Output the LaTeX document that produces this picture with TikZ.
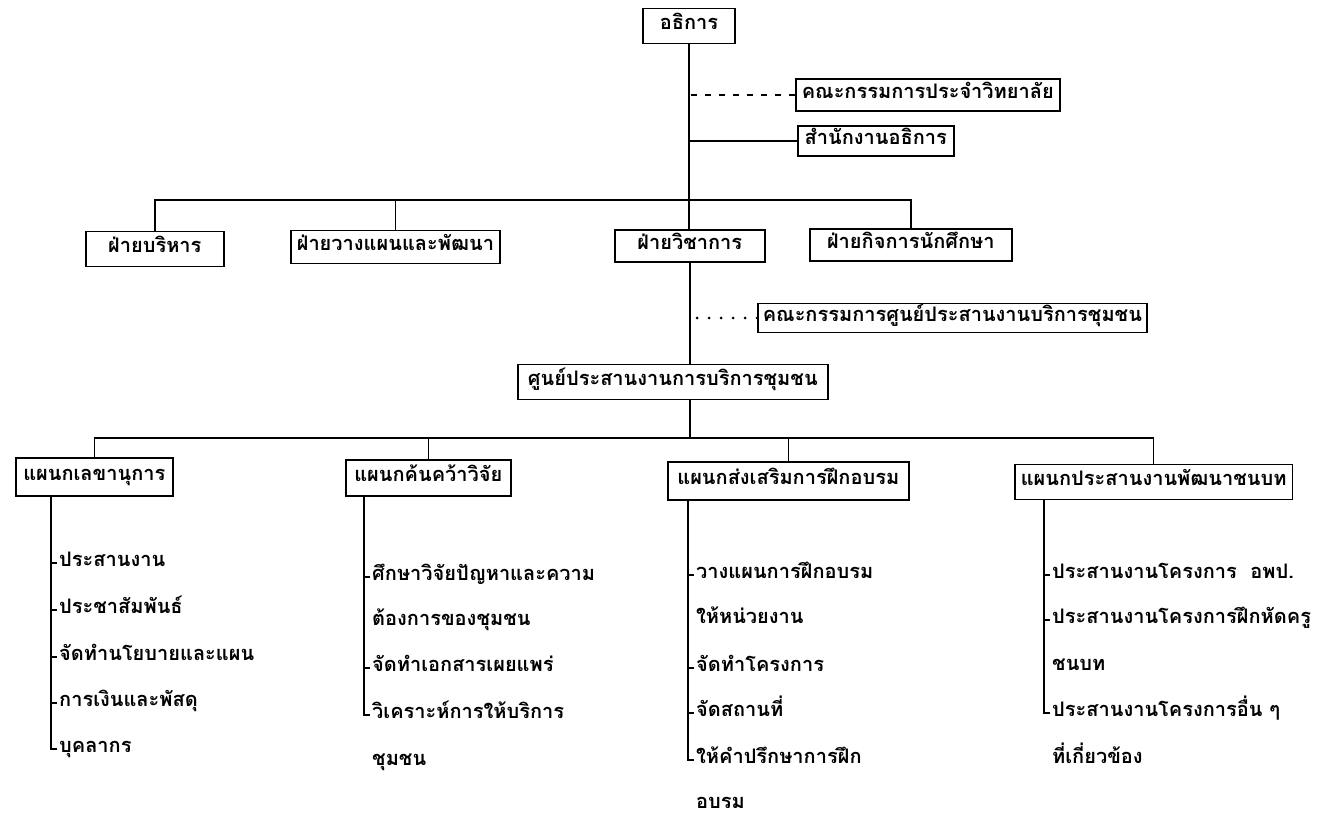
\documentclass[tikz,border=0pt]{standalone}
\usepackage{fontspec}
\newfontfamily\thai[Script=Thai]{Loma}
\begin{document}
\begin{tikzpicture}[x=1pt,y=-1pt,
  every node/.style={font=\thai\bfseries\fontsize{20}{22}\selectfont, text height=10pt, text depth=3pt},
  box/.style={draw, line width=1.6pt, inner xsep=6pt, inner ysep=0pt, anchor=west},
  item/.style={anchor=west, inner xsep=2pt, inner ysep=0pt},
  conn/.style={line width=1.6pt},
  dashline/.style={line width=1.5pt, dash pattern=on 6pt off 8pt},
  dotline/.style={line width=3pt, line cap=round, dash pattern=on 0pt off 12pt}]
\useasboundingbox (0,0) rectangle (1322,818);

% top level
\node[box, anchor=center, minimum width=92pt, minimum height=35pt] (dir) at (689,26) {อธิการ};
\node[box, minimum height=32pt] (com1) at (795,95) {คณะกรรมการประจำวิทยาลัย};
\node[box, minimum width=156pt, minimum height=30pt] (off) at (797,141) {สำนักงานอธิการ};

% divisions
\node[box, minimum width=138pt, minimum height=35pt] (d1) at (85,249) {ฝ่ายบริหาร};
\node[box, minimum width=205pt, minimum height=33pt] (d2) at (290,247) {ฝ่ายวางแผนและพัฒนา};
\node[box, minimum width=150pt, minimum height=32pt] (d3) at (614,246) {ฝ่ายวิชาการ};
\node[box, minimum width=202pt, minimum height=32pt] (d4) at (809,245) {ฝ่ายกิจการนักศึกษา};

% centre
\node[box, inner xsep=5pt, minimum height=29pt] (com2) at (757,318) {คณะกรรมการศูนย์ประสานงานบริการชุมชน};
\node[box, minimum width=310pt, minimum height=35pt] (ctr) at (517,382) {ศูนย์ประสานงานการบริการชุมชน};

% sections
\node[box, minimum width=157pt, minimum height=38pt] (s1) at (15,477) {แผนกเลขานุการ};
\node[box, minimum width=165pt, minimum height=36pt] (s2) at (345,478) {แผนกค้นคว้าวิจัย};
\node[box, minimum width=241pt, minimum height=38pt] (s3) at (667,481) {แผนกส่งเสริมการฝึกอบรม};
\node[box, minimum width=271pt, minimum height=35pt] (s4) at (1014,482) {แผนกประสานงานพัฒนาชนบท};

% bars
\coordinate (bar1) at (0,200);
\coordinate (bar2) at (0,438);

\draw[conn] (dir.south) -- (dir.south |- d3.north);
\draw[dashline] (com1.west) -- (com1.west -| dir.south);
\draw[conn] (off.west) -- (off.west -| dir.south);
\draw[conn] (d1.north) -- (d1.north |- bar1) -| (d4.north);
\draw[conn] (d2.north) -- (d2.north |- bar1);

\draw[conn] (d3.south) -- (d3.south |- ctr.north);
\draw[dotline] (com2.west) -- (com2.west -| d3.south);
\draw[conn] (d3.south |- ctr.south) -- (d3.south |- bar2);
\draw[conn] (s1.north) -- (s1.north |- bar2) -| (s4.north);
\draw[conn] (s2.north) -- (s2.north |- bar2);
\draw[conn] (s3.north) -- (s3.north |- bar2);

% list 1
\coordinate (p1) at (51,0);
\node[item] (i11) at (57,563) {ประสานงาน};
\node[item] (i12) at (57,610) {ประชาสัมพันธ์};
\node[item] (i13) at (57,657) {จัดทำนโยบายและแผน};
\node[item] (i14) at (57,703) {การเงินและพัสดุ};
\node[item] (i15) at (57,749) {บุคลากร};
\draw[conn] (p1 |- s1.south) |- (i15.west);
\foreach \n in {i11,i12,i13,i14} \draw[conn] (p1 |- \n.west) -- (\n.west);

% list 2
\coordinate (p2) at (364,0);
\node[item] (i21) at (370,577) {ศึกษาวิจัยปัญหาและความ};
\node[item] (i22) at (370,622) {ต้องการของชุมชน};
\node[item] (i23) at (370,668) {จัดทำเอกสารเผยแพร่};
\node[item] (i24) at (370,715) {วิเคราะห์การให้บริการ};
\node[item] (i25) at (370,762) {ชุมชน};
\draw[conn] (p2 |- s2.south) |- (i24.west);
\foreach \n in {i21,i23} \draw[conn] (p2 |- \n.west) -- (\n.west);

% list 3
\coordinate (p3) at (688,0);
\node[item] (i31) at (694,575) {วางแผนการฝึกอบรม};
\node[item] (i32) at (694,620) {ให้หน่วยงาน};
\node[item] (i33) at (694,668) {จัดทำโครงการ};
\node[item] (i34) at (694,713) {จัดสถานที่};
\node[item] (i35) at (694,760) {ให้คำปรึกษาการฝึก};
\node[item] (i36) at (694,805) {อบรม};
\draw[conn] (p3 |- s3.south) |- (i35.west);
\foreach \n in {i31,i33,i34} \draw[conn] (p3 |- \n.west) -- (\n.west);

% list 4
\coordinate (p4) at (1044,0);
\node[item] (i41) at (1050,575) {ประสานงานโครงการ\ \ อพป.};
\node[item] (i42) at (1050,620) {ประสานงานโครงการฝึกหัดครู};
\node[item] (i43) at (1050,667) {ชนบท};
\node[item] (i44) at (1050,713) {ประสานงานโครงการอื่น ๆ};
\node[item] (i45) at (1050,760) {ที่เกี่ยวข้อง};
\draw[conn] (p4 |- s4.south) |- (i44.west);
\foreach \n in {i41,i42} \draw[conn] (p4 |- \n.west) -- (\n.west);
\end{tikzpicture}
\end{document}
